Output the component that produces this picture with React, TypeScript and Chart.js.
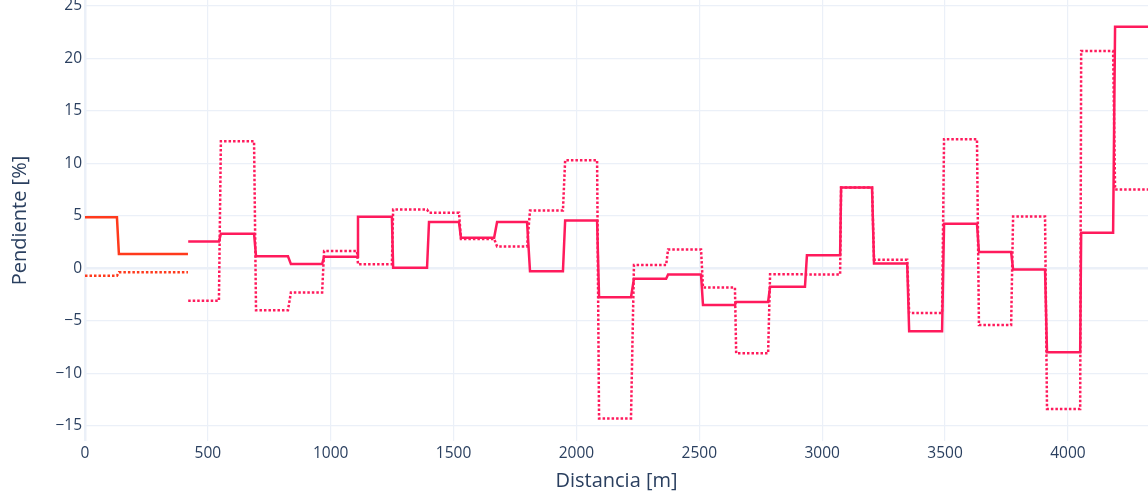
import { useEffect, useRef } from "react";
import { Chart, registerables } from "chart.js";

Chart.register(...registerables);

// First stretch (0–420 m): start/end distance of each segment [m] and its slope [%]
const FIRST_STARTS = [0, 138];
const FIRST_ENDS = [130, 419];
const FIRST_SOLID = [4.85, 1.35];
const FIRST_DOTTED = [-0.72, -0.38];

// Remaining segments
const SEG_STARTS = [
  420, 553, 696, 838, 973, 1111, 1254, 1400, 1530, 1677, 1811, 1954, 2092, 2234,
  2373, 2515, 2650, 2788, 2938, 3077, 3211, 3354, 3496, 3638, 3777, 3915, 4054, 4192,
];
const SEG_ENDS = [
  545, 688, 826, 965, 1107, 1249, 1392, 1522, 1665, 1799, 1945, 2084, 2222, 2365,
  2507, 2645, 2780, 2930, 3073, 3203, 3346, 3488, 3630, 3769, 3907, 4050, 4184, 4340,
];
const SEG_SOLID = [
  2.55, 3.3, 1.15, 0.4, 1.1, 4.9, 0.05, 4.4, 2.9, 4.4, -0.28, 4.55, -2.75, -1.0,
  -0.6, -3.5, -3.2, -1.77, 1.23, 7.7, 0.45, -6.0, 4.24, 1.55, -0.12, -8.0, 3.38, 23.0,
];
const SEG_DOTTED = [
  -3.1, 12.1, -4.0, -2.3, 1.64, 0.38, 5.6, 5.28, 2.8, 2.08, 5.5, 10.3, -14.3, 0.31,
  1.8, -1.83, -8.1, -0.57, -0.6, 7.7, 0.82, -4.27, 12.3, -5.4, 4.93, -13.4, 20.7, 7.5,
];

const X_TICKS = [0, 500, 1000, 1500, 2000, 2500, 3000, 3500, 4000];
const Y_TICKS = [-15, -10, -5, 0, 5, 10, 15, 20, 25];

const ORANGE = "#ff3a1c";
const PINK = "#ff1a5c";
const TEXT = "#2a3f5f";
const GRID = "#ebf0f8";
const FONT = "'Open Sans', sans-serif";

// Each segment becomes a flat run from its start to its end distance
function steps(starts: number[], ends: number[], values: number[]) {
  const pts: { x: number; y: number }[] = [];
  values.forEach((v, i) => {
    pts.push({ x: starts[i], y: v });
    pts.push({ x: ends[i], y: v });
  });
  return pts;
}

const fmt = (v: number) => (v < 0 ? "\u2212" + Math.abs(v) : String(v));

export default function App() {
  const ref = useRef<HTMLCanvasElement | null>(null);

  useEffect(() => {
    if (!ref.current) return;
    const line = (data: any, color: string, dotted: boolean) => ({
      data,
      borderColor: color,
      backgroundColor: color,
      borderWidth: 2.5,
      borderDash: dotted ? [2.5, 2] : [],
      pointRadius: 0,
      tension: 0,
      fill: false,
    });
    const chart = new Chart(ref.current, {
      type: "line",
      data: {
        datasets: [
          line(steps(FIRST_STARTS, FIRST_ENDS, FIRST_DOTTED), ORANGE, true),
          line(steps(FIRST_STARTS, FIRST_ENDS, FIRST_SOLID), ORANGE, false),
          line(steps(SEG_STARTS, SEG_ENDS, SEG_DOTTED), PINK, true),
          line(steps(SEG_STARTS, SEG_ENDS, SEG_SOLID), PINK, false),
        ],
      },
      options: {
        animation: false,
        responsive: false,
        devicePixelRatio: 1,
        layout: { padding: 0 },
        plugins: { legend: { display: false }, tooltip: { enabled: false } },
        scales: {
          x: {
            type: "linear",
            min: 0,
            max: 4326,
            afterBuildTicks: (s: any) => {
              s.ticks = X_TICKS.map((v) => ({ value: v }));
            },
            afterFit: (s: any) => {
              s.height = 50;
              s.paddingLeft = 0;
              s.paddingRight = 0;
            },
            border: { display: false },
            grid: {
              color: GRID,
              lineWidth: (c: any) => (c.tick && c.tick.value === 0 ? 2.5 : 1.2),
              drawTicks: false,
            },
            ticks: {
              padding: 3,
              color: TEXT,
              font: { family: FONT, size: 15.5 },
              maxRotation: 0,
              callback: (v: any) => fmt(Number(v)),
            },
            title: {
              display: true,
              text: "Distancia [m]",
              color: TEXT,
              font: { family: FONT, size: 20 },
              padding: { top: 0, bottom: -2 },
            },
          },
          y: {
            type: "linear",
            min: -16.45,
            max: 25.55,
            afterBuildTicks: (s: any) => {
              s.ticks = Y_TICKS.map((v) => ({ value: v }));
            },
            afterFit: (s: any) => {
              s.width = 85;
              s.paddingTop = 0;
              s.paddingBottom = 0;
            },
            border: { display: false },
            grid: {
              color: GRID,
              lineWidth: (c: any) => (c.tick && c.tick.value === 0 ? 2.5 : 1.2),
              drawTicks: false,
            },
            ticks: {
              padding: 3,
              color: TEXT,
              font: { family: FONT, size: 15.5 },
              callback: (v: any) => fmt(Number(v)),
            },
            title: {
              display: true,
              text: "Pendiente [%]",
              color: TEXT,
              font: { family: FONT, size: 20 },
              padding: { top: 8, bottom: 0 },
            },
          },
        },
      },
    } as any);
    return () => chart.destroy();
  }, []);

  return (
    <div
      style={{
        position: "fixed",
        left: 0,
        top: 0,
        width: 1148,
        height: 491,
        background: "#fff",
      }}
    >
      <canvas ref={ref} width={1148} height={491} style={{ width: 1148, height: 491, display: "block" }} />
    </div>
  );
}
